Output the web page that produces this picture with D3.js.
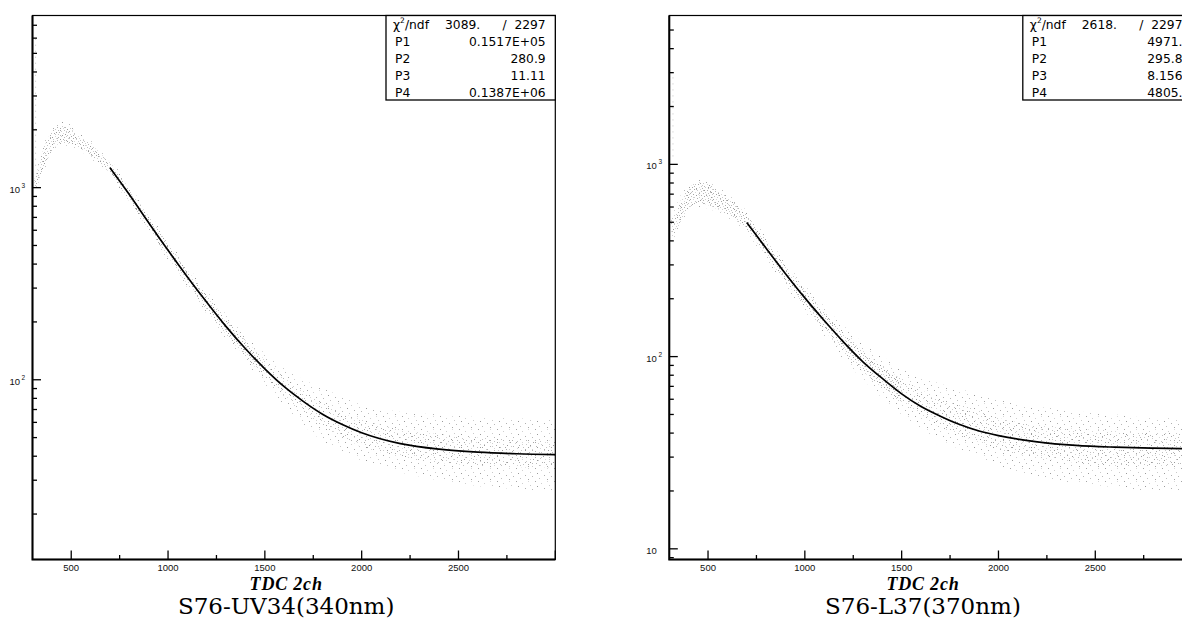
<!DOCTYPE html>
<html>
<head>
<meta charset="utf-8">
<script src="https://cdn.jsdelivr.net/npm/d3@7"></script>
<style>
  body { margin: 0; background: #fff; }
  svg { display: block; }
</style>
</head>
<body>
<svg id="chart" width="1182" height="624"></svg>
<script>
const bandX = [310, 330, 360, 400, 450, 500, 550, 600, 650, 700, 800, 900, 1000, 1100, 1200,
  1300, 1400, 1500, 1600, 1700, 1800, 1900, 2000, 2200, 2400, 2600, 2800, 3000];

// S76-UV34: dense core of the scatter and its sparse outskirts (counts)
const uvCoreLo = [990, 1050, 1280, 1550, 1720, 1680, 1600, 1470, 1330, 1190, 850, 610, 435, 315, 230,
  172, 132, 103, 82, 67, 57, 50, 45, 40, 37, 36, 35, 35];
const uvCoreHi = [1100, 1280, 1620, 1950, 2100, 2040, 1820, 1690, 1510, 1350, 980, 710, 510, 370, 275,
  207, 160, 127, 103, 87, 76, 67, 62, 55, 52, 50, 49, 48];
const uvOuterLo = [960, 1000, 1220, 1480, 1650, 1620, 1540, 1420, 1280, 1150, 820, 590, 420, 300, 220,
  163, 124, 95, 74, 58, 48, 42, 38, 33, 30, 28, 27, 26];
const uvOuterHi = [1160, 1380, 1720, 2050, 2200, 2120, 1900, 1760, 1570, 1400, 1020, 740, 535, 390, 290,
  220, 172, 138, 115, 100, 90, 82, 75, 68, 66, 64, 63, 62];

// S76-L37
const l37CoreLo = [420, 440, 510, 590, 630, 615, 585, 550, 510, 460, 335, 245, 182, 138, 106,
  84, 69, 57, 49, 43, 39, 36, 33, 30, 28, 27, 27, 27];
const l37CoreHi = [510, 550, 650, 750, 800, 790, 730, 675, 615, 545, 400, 295, 222, 170, 133,
  107, 89, 76, 67, 60, 56, 52, 48, 44, 42, 41, 40, 40];
const l37OuterLo = [400, 410, 480, 560, 600, 590, 560, 530, 490, 440, 320, 232, 172, 128, 97,
  76, 61, 50, 42, 37, 33, 30, 27, 24, 22, 21, 20, 20];
const l37OuterHi = [550, 590, 700, 800, 840, 830, 770, 705, 645, 570, 420, 312, 236, 182, 145,
  118, 100, 87, 78, 72, 68, 64, 60, 55, 52, 50, 48, 48];

// first-channel spike: [channel, lowest, highest]
const uvSpike = [316, 1300, 6000];
const l37Spike = [319, 1100, 3000];

// fitted curve
const fitX = [700, 800, 900, 1000, 1100, 1200, 1300, 1400, 1500, 1600, 1700, 1800, 1900, 2000,
  2200, 2400, 2600, 2800, 3000];
const uvFit = [1270, 921, 657, 472, 343, 253, 189, 145, 114, 92, 77, 66, 58.5, 53,
  46.5, 43.5, 42, 41.2, 40.8];
const l37Fit = [499, 366, 270, 202, 154, 119, 94, 77, 64, 55, 49, 44.3, 41, 38.8,
  36, 34.5, 33.8, 33.4, 33.2];

// fit statistics boxes
const parNames = ['P1', 'P2', 'P3', 'P4'];
const uvChi = ['3089.', '2297'];
const uvPars = ['0.1517E+05', '280.9', '11.11', '0.1387E+06'];
const l37Chi = ['2618.', '2297'];
const l37Pars = ['4971.', '295.8', '8.156', '4805.'];

const xMajor = [500, 1000, 1500, 2000, 2500, 3000];
const xMinor = [750, 1250, 1750, 2250, 2750];
const xTitle = 'TDC 2ch';

const svg = d3.select('#chart');
const defs = svg.append('defs');

const TOP = 15.5, BOTTOM = 559.5, PW = 522.8;
const sans = '"Liberation Sans", Helvetica, Arial, sans-serif';

// stipple tiles standing in for the one-pixel bin markers (x offsets per tile row)
const denseRows = [[2,9,15,20],[6,12,18],[0,4,10,22],[7,14,17],[2,11,20],[5,9,15,21],[0,13,18],
  [3,8,16,22],[6,11,19],[1,14,17],[4,9,21],[7,12,18],[0,3,15,20],[10,13,22],[5,8,17],[1,12,19],[4,14,21]];
const mediumRows = [[4,16],[9],[20],[1,13],[7],[17,22],[11],[3],[15,19],[6],[0,12],[21],[9,17],
  [2],[14],[6,20],[11]];
const sparseRows = [[3,15],[],[9],[],[17],[5],[],[12],[0],[],[7],[15],[]];
const shades = ['#a6a6a6', '#cacaca', '#b8b8b8', '#d8d8d8', '#9a9a9a', '#c2c2c2', '#d0d0d0', '#b0b0b0'];

function stipple(id, rows, w, h) {
  const dots = rows.flatMap((xs, y) => xs.map(x => [x, y]));
  const p = defs.append('pattern').attr('id', id)
    .attr('patternUnits', 'userSpaceOnUse').attr('width', w).attr('height', h);
  p.selectAll('rect').data(dots).join('rect')
    .attr('x', d => d[0]).attr('y', d => d[1])
    .attr('width', 1).attr('height', 1)
    .attr('fill', (d, i) => shades[(i * 3) % shades.length]);
}
stipple('dense', denseRows, 23, 17);
stipple('medium', mediumRows, 23, 17);
stipple('sparse', sparseRows, 19, 13);

function panel(o) {
  const x = d3.scaleLinear([300, 3000], [o.left, o.left + PW]);
  const y = d3.scaleLog(o.yDomain, [BOTTOM, TOP]);
  const g = svg.append('g');

  defs.append('clipPath').attr('id', o.id + '-clip').append('rect')
    .attr('x', x(300)).attr('y', TOP).attr('width', PW).attr('height', BOTTOM - TOP);
  const plot = g.append('g').attr('clip-path', `url(#${o.id}-clip)`);

  const rows = bandX.map((v, i) => ({
    x: v, lo: o.coreLo[i], hi: o.coreHi[i], olo: o.outerLo[i], ohi: o.outerHi[i]
  }));
  const outer = d3.area().x(d => x(d.x)).y0(d => y(d.olo)).y1(d => y(d.ohi)).curve(d3.curveMonotoneX);
  const core = d3.area().x(d => x(d.x)).y0(d => y(d.lo)).y1(d => y(d.hi)).curve(d3.curveMonotoneX);

  plot.append('path').datum(rows).attr('d', outer).attr('fill', 'url(#sparse)');
  plot.append('path').datum(rows.filter(d => d.x >= 1500)).attr('d', core).attr('fill', 'url(#medium)');
  plot.append('path').datum(rows.filter(d => d.x <= 1500)).attr('d', core).attr('fill', 'url(#dense)');

  plot.append('line')
    .attr('x1', x(o.spike[0])).attr('x2', x(o.spike[0]))
    .attr('y1', y(o.spike[1])).attr('y2', y(o.spike[2]))
    .attr('stroke', '#c4c4c4').attr('stroke-width', 1).attr('stroke-dasharray', '1 5');

  const fitLine = d3.line().x((d, i) => x(fitX[i])).y(d => y(d)).curve(d3.curveMonotoneX);
  plot.append('path').datum(o.fit).attr('d', fitLine)
    .attr('fill', 'none').attr('stroke', '#000').attr('stroke-width', 1.7);

  // frame
  g.append('rect').attr('x', x(300)).attr('y', TOP).attr('width', PW).attr('height', BOTTOM - TOP)
    .attr('fill', 'none').attr('stroke', '#000').attr('stroke-width', 1.2);
  g.append('path').attr('d', `M${x(300)},${TOP}V${BOTTOM}H${x(3000)}`)
    .attr('fill', 'none').attr('stroke', '#000').attr('stroke-width', 2);

  // x ticks, inward
  g.selectAll('.xmaj').data(xMajor).join('line')
    .attr('x1', d => x(d)).attr('x2', d => x(d)).attr('y1', BOTTOM).attr('y2', BOTTOM - 9)
    .attr('stroke', '#000').attr('stroke-width', 1.3);
  g.selectAll('.xmin').data(xMinor).join('line')
    .attr('x1', d => x(d)).attr('x2', d => x(d)).attr('y1', BOTTOM).attr('y2', BOTTOM - 4.5)
    .attr('stroke', '#000').attr('stroke-width', 1.3);
  g.selectAll('.xlab').data(xMajor.filter(d => d < 3000)).join('text')
    .attr('x', d => x(d)).attr('y', 571).attr('text-anchor', 'middle')
    .attr('font-family', sans).attr('font-size', 9.5).attr('fill', '#111')
    .text(d => d);

  // y ticks, inward on the left axis only
  const yt = y.ticks();
  const isMajor = d => Math.abs(Math.log10(d) - Math.round(Math.log10(d))) < 1e-9;
  g.selectAll('.ytk').data(yt).join('line')
    .attr('x1', x(300)).attr('x2', d => x(300) + (isMajor(d) ? 8.5 : 4.5))
    .attr('y1', d => y(d)).attr('y2', d => y(d))
    .attr('stroke', '#000').attr('stroke-width', 1.3);
  const ylab = g.selectAll('.ylab').data(yt.filter(isMajor)).join('text')
    .attr('x', x(300) - 23).attr('y', d => y(d) + 5)
    .attr('font-family', sans).attr('font-size', 9.5).attr('fill', '#111');
  ylab.append('tspan').text('10');
  ylab.filter(d => Math.round(Math.log10(d)) > 1).append('tspan')
    .attr('dx', 1.5).attr('dy', -5).attr('font-size', 6.5)
    .text(d => Math.round(Math.log10(d)));

  // statistics box
  const bR = x(3000), bL = bR - 169.3, bT = TOP, bB = 100;
  g.append('rect').attr('x', bL).attr('y', bT).attr('width', bR - bL).attr('height', bB - bT)
    .attr('fill', '#fff').attr('stroke', '#000').attr('stroke-width', 1.3);
  const row = i => 28.8 + i * 17.1;
  const st = g.append('g').attr('font-family', '"DejaVu Sans", sans-serif')
    .attr('font-size', 12.3).attr('fill', '#000');
  const chi = st.append('text').attr('x', bL + 7).attr('y', row(0));
  chi.append('tspan').text('χ');
  chi.append('tspan').attr('dy', -5.5).attr('font-size', 7.5).text('2');
  chi.append('tspan').attr('dy', 5.5).text('/ndf');
  st.append('text').attr('x', bL + 59).attr('y', row(0)).text(o.chi[0]);
  st.append('text').attr('x', bR - 9.6).attr('y', row(0)).attr('text-anchor', 'end')
    .attr('xml:space', 'preserve').text('/  ' + o.chi[1]);
  st.selectAll('.pn').data(parNames).join('text')
    .attr('x', bL + 9).attr('y', (d, i) => row(i + 1)).text(d => d);
  st.selectAll('.pv').data(o.pars).join('text')
    .attr('x', bR - 9.6).attr('y', (d, i) => row(i + 1)).attr('text-anchor', 'end').text(d => d);

  // axis title and panel caption
  g.append('text').attr('x', x(1610)).attr('y', 589.5).attr('text-anchor', 'middle')
    .attr('font-family', '"Liberation Serif", "Times New Roman", serif')
    .attr('font-style', 'italic').attr('font-weight', 'bold').attr('font-size', 18)
    .attr('letter-spacing', 0.8)
    .text(xTitle);
  g.append('text').attr('x', x(1610)).attr('y', 614).attr('text-anchor', 'middle')
    .attr('font-family', '"DejaVu Serif", serif').attr('font-size', 23)
    .text(o.caption);
}

panel({
  id: 'uv', left: 32.5, yDomain: [11.6, 7870],
  coreLo: uvCoreLo, coreHi: uvCoreHi, outerLo: uvOuterLo, outerHi: uvOuterHi,
  spike: uvSpike, fit: uvFit, chi: uvChi, pars: uvPars, caption: 'S76-UV34(340nm)'
});
panel({
  id: 'l37', left: 669.3, yDomain: [8.8, 5950],
  coreLo: l37CoreLo, coreHi: l37CoreHi, outerLo: l37OuterLo, outerHi: l37OuterHi,
  spike: l37Spike, fit: l37Fit, chi: l37Chi, pars: l37Pars, caption: 'S76-L37(370nm)'
});
</script>
</body>
</html>
